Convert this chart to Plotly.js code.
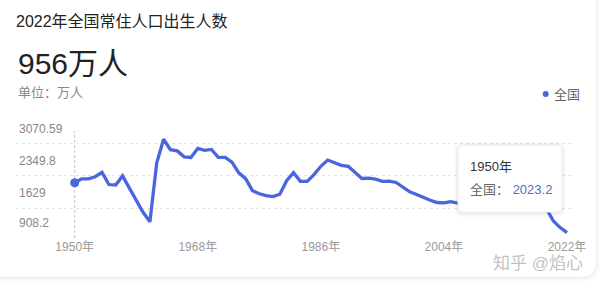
<!DOCTYPE html>
<html>
<head>
<meta charset="utf-8">
<script src="https://cdn.plot.ly/plotly-3.0.1.min.js"></script>
<style>
  html, body { margin: 0; padding: 0; width: 600px; height: 281px; overflow: hidden; background: #ffffff; }
  #card { position: absolute; left: -10px; top: -40px; width: 605px; height: 316px;
          border: 1px solid #ececec; border-radius: 14px; box-shadow: 0 2px 6px rgba(0,0,0,0.06); background: #fff; }
  #chart { position: absolute; left: 0; top: 0; width: 600px; height: 281px; }
</style>
</head>
<body>
<div id="card"></div>
<div id="chart"></div>
<script>
// ---- data ----
const years = [1950,1951,1952,1953,1954,1955,1956,1957,1958,1959,
               1960,1961,1962,1963,1964,1965,1966,1967,1968,1969,
               1970,1971,1972,1973,1974,1975,1976,1977,1978,1979,
               1980,1981,1982,1983,1984,1985,1986,1987,1988,1989,
               1990,1991,1992,1993,1994,1995,1996,1997,1998,1999,
               2000,2001,2002,2003,2004,2005,2006,2007,2008,2009,
               2010,2011,2012,2013,2014,2015,2016,2017,2018,2019,
               2020,2021,2022];
const births = [2023.2,2107,2105,2151,2245,1984,1975,2169,1906,1650,
                1389,1187,2451,2954,2729,2704,2577,2563,2757,2715,
                2736,2567,2566,2463,2235,2109,1853,1786,1745,1727,
                1776,2064,2237,2052,2050,2196,2374,2508,2445,2396,
                2374,2250,2113,2120,2098,2052,2057,2028,1934,1827,
                1771,1702,1647,1599,1593,1617,1585,1595,1608,1591,
                1592,1604,1635,1640,1687,1655,1786,1723,1523,1465,
                1202,1062,956];
const seriesName = '全国';
const unitLabel = '万人';
const xTickYears = [1950, 1968, 1986, 2004, 2022];
const xTickLabels = ['1950年', '1968年', '1986年', '2004年', '2022年'];
const yTickLabels = ['908.2', '1629', '2349.8', '3070.59'];

// ---- style / layout constants ----
const gridVals = [850, 1481, 2173, 2867];
const BLUE = '#4a66dd';
const FONT = "'Liberation Sans', 'Noto Sans CJK SC', sans-serif";

function roundRect(x, y, w, h, r) {
  return `M${x + r},${y} L${x + w - r},${y} Q${x + w},${y} ${x + w},${y + r} ` +
         `L${x + w},${y + h - r} Q${x + w},${y + h} ${x + w - r},${y + h} ` +
         `L${x + r},${y + h} Q${x},${y + h} ${x},${y + h - r} L${x},${y + r} Q${x},${y} ${x + r},${y} Z`;
}

const lastYear = years[years.length - 1];
const lastVal = births[births.length - 1];

const traces = [
  {
    x: years, y: births, type: 'scatter', mode: 'lines',
    line: { color: BLUE, width: 3.3 },
    name: seriesName, showlegend: false, hoverinfo: 'skip'
  },
  {
    x: [years[0]], y: [births[0]], type: 'scatter', mode: 'markers',
    marker: { color: BLUE, size: 9 },
    name: seriesName, showlegend: false, hoverinfo: 'skip', cliponaxis: false
  }
];

const tipAnchor = { x: (458 - 16) / 556, y: (238 - 212) / 128 };

const layout = {
  width: 600, height: 281,
  margin: { l: 16, r: 28, t: 110, b: 43 },
  paper_bgcolor: 'rgba(0,0,0,0)',
  plot_bgcolor: 'rgba(0,0,0,0)',
  font: { family: FONT, color: '#999' },
  showlegend: false,
  title: {
    text: `${lastYear}年全国常住人口出生人数`,
    font: { size: 16, color: '#222', family: FONT },
    xref: 'container', yref: 'container',
    x: 16 / 600, xanchor: 'left', y: 1 - 21 / 281, yanchor: 'middle'
  },
  xaxis: {
    type: 'linear', range: [1941.415, 2022.73],
    tickvals: xTickYears, ticktext: xTickLabels,
    showgrid: false, zeroline: false, showline: false, ticks: '',
    tickfont: { size: 12, color: '#999', family: FONT }
  },
  yaxis: {
    range: [839, 3580],
    tickvals: gridVals, ticktext: yTickLabels,
    ticklabelposition: 'inside', ticklabelshift: -15,
    showgrid: true, gridcolor: '#e4e4e4', griddash: 'dot', gridwidth: 1,
    zeroline: false, showline: false, ticks: '',
    tickfont: { size: 12, color: '#888', family: FONT }
  },
  shapes: [
    { type: 'line', xref: 'x', yref: 'paper', x0: years[0], x1: years[0], y0: 0, y1: 0.836,
      line: { color: '#c4c4c4', width: 1, dash: '3px,2px' }, layer: 'below' },
    { type: 'circle', xref: 'paper', yref: 'paper',
      xanchor: (545.7 - 16) / 556, yanchor: (238 - 94) / 128,
      xsizemode: 'pixel', ysizemode: 'pixel', x0: -3, x1: 3, y0: -3, y1: 3,
      fillcolor: BLUE, line: { width: 0 } },
    // tooltip shadow + box
    { type: 'path', xref: 'paper', yref: 'paper', xanchor: tipAnchor.x, yanchor: tipAnchor.y,
      xsizemode: 'pixel', ysizemode: 'pixel', layer: 'above',
      path: roundRect(-4, -5, 112, 75, 9), fillcolor: 'rgba(0,0,0,0.025)', line: { width: 0 } },
    { type: 'path', xref: 'paper', yref: 'paper', xanchor: tipAnchor.x, yanchor: tipAnchor.y,
      xsizemode: 'pixel', ysizemode: 'pixel', layer: 'above',
      path: roundRect(-2, -3, 108, 71, 8), fillcolor: 'rgba(0,0,0,0.035)', line: { width: 0 } },
    { type: 'path', xref: 'paper', yref: 'paper', xanchor: tipAnchor.x, yanchor: tipAnchor.y,
      xsizemode: 'pixel', ysizemode: 'pixel', layer: 'above',
      path: roundRect(0, 0, 104, 67, 6), fillcolor: '#ffffff', line: { color: '#eeeeee', width: 1 } }
  ],
  annotations: [
    { xref: 'paper', yref: 'paper', x: 0, y: (238 - 63) / 128, xanchor: 'left', yanchor: 'middle',
      text: `${lastVal}${unitLabel}`, showarrow: false,
      font: { size: 30, color: '#222', family: FONT } },
    { xref: 'paper', yref: 'paper', x: 0, y: (238 - 92) / 128, xanchor: 'left', yanchor: 'middle',
      text: `单位：${unitLabel}`, showarrow: false,
      font: { size: 13, color: '#888', family: FONT } },
    { xref: 'paper', yref: 'paper', x: (552 - 16) / 556, y: (238 - 94) / 128, xanchor: 'left', yanchor: 'middle',
      text: seriesName, showarrow: false,
      font: { size: 13, color: '#666', family: FONT } },
    { xref: 'paper', yref: 'paper', x: (468 - 16) / 556, y: (238 - 166.7) / 128, xanchor: 'left', yanchor: 'middle',
      text: `${years[0]}年`, showarrow: false,
      font: { size: 13, color: '#333', family: FONT } },
    { xref: 'paper', yref: 'paper', x: (468 - 16) / 556, y: (238 - 189.3) / 128, xanchor: 'left', yanchor: 'middle',
      text: `${seriesName}：&nbsp;<span style="color:#5470c6">${births[0].toFixed(1)}</span>`, showarrow: false,
      font: { size: 13, color: '#666', family: FONT } },
    { xref: 'paper', yref: 'paper', x: (538 - 16) / 556, y: (238 - 263) / 128, xanchor: 'center', yanchor: 'middle',
      text: '知乎 @焰心', showarrow: false,
      font: { size: 17, color: 'rgba(150,150,150,0.6)', family: FONT } }
  ]
};

Plotly.newPlot('chart', traces, layout, { staticPlot: true, displayModeBar: false });
</script>
</body>
</html>
